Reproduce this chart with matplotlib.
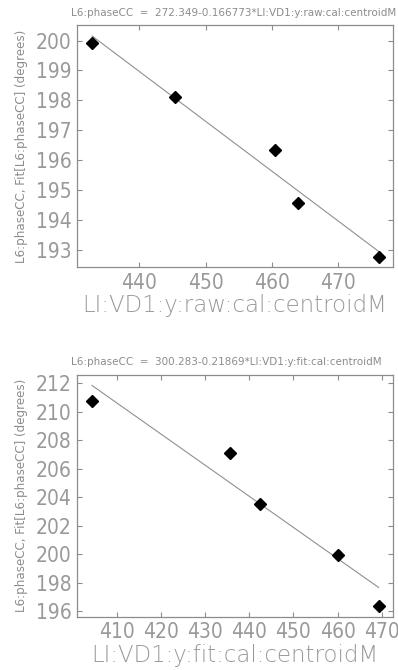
import matplotlib
matplotlib.use("Agg")
import matplotlib.pyplot as plt
import numpy as np

# Top panel: raw centroid vs phase
raw_x = [432.9, 445.4, 460.5, 464.0, 476.1]
raw_y = [199.93, 198.12, 196.34, 194.56, 192.77]
raw_fit = (272.349, -0.166773)

# Bottom panel: fitted centroid vs phase
fit_x = [404.4, 435.6, 442.4, 460.1, 469.3]
fit_y = [210.74, 207.13, 203.52, 199.93, 196.32]
fit_fit = (300.283, -0.21869)

raw_xticks = [440, 450, 460, 470]
raw_yticks = [193, 194, 195, 196, 197, 198, 199, 200]
fit_xticks = [410, 420, 430, 440, 450, 460, 470]
fit_yticks = [196, 198, 200, 202, 204, 206, 208, 210, 212]

gray = "#8c8c8c"
ylab = "L6:phaseCC, Fit[L6:phaseCC] (degrees)"

plt.rcParams["font.family"] = ["DejaVu Sans"]

fig = plt.figure(figsize=(3.98, 6.70), dpi=100)


def panel(rect, x, y, coef, xlim, ylim, xticks, yticks, title, xlabel):
    ax = fig.add_axes(rect)
    x = np.array(x)
    b, m = coef
    # fit line over the data range
    xs = np.array([x.min(), x.max()])
    ax.plot(xs, b + m * xs, color="#909090", linewidth=0.8)
    ax.plot(x, y, "D", color="black", markersize=6.5)
    ax.set_xlim(xlim)
    ax.set_ylim(ylim)
    ax.set_xticks(xticks)
    ax.set_yticks(yticks)
    ax.tick_params(direction="in", length=3.5, width=0.8, color=gray,
                   top=True, right=True, labelsize=15, labelcolor="#999999", pad=4)
    for lab in ax.get_xticklabels() + ax.get_yticklabels():
        lab.set_fontweight("light")
        lab.set_fontstretch("condensed")
    for s in ax.spines.values():
        s.set_color(gray)
        s.set_linewidth(0.9)
    ax.set_title(title, fontsize=7.5, color=gray, loc="left", x=-0.02, pad=7)
    ax.set_xlabel(xlabel, fontsize=16.5, color="#999999", fontweight="light", labelpad=1)
    ax.set_ylabel(ylab, fontsize=8.6, color=gray, labelpad=6)
    return ax


panel([0.1942, 0.601, 0.7925, 0.3612], raw_x, raw_y, raw_fit,
      (430.66, 478.2), (192.42, 200.51), raw_xticks, raw_yticks,
      "L6:phaseCC  =  272.349-0.166773*LI:VD1:y:raw:cal:centroidM",
      "LI:VD1:y:raw:cal:centroidM")

panel([0.1942, 0.0796, 0.7925, 0.3612], fit_x, fit_y, fit_fit,
      (401.08, 472.5), (195.6, 212.6), fit_xticks, fit_yticks,
      "L6:phaseCC  =  300.283-0.21869*LI:VD1:y:fit:cal:centroidM",
      "LI:VD1:y:fit:cal:centroidM")

fig.savefig("out.png", dpi=100)
